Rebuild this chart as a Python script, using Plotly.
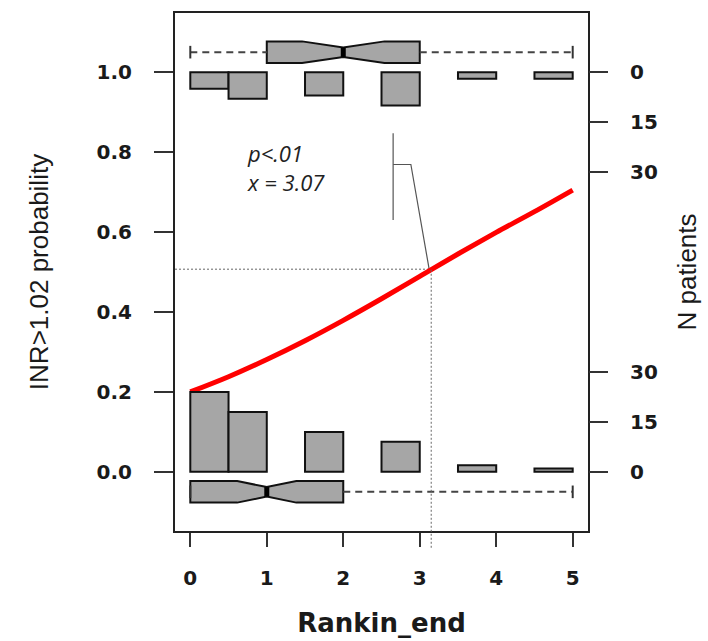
import numpy as np
import plotly.graph_objects as go

# ---------------- data ----------------
rankin_levels = [0, 1, 2, 3, 4, 5]
bin_left = [0.0, 0.5, 1.5, 2.5, 3.5, 4.5]
bin_width = 0.5
count_low = [24, 18, 12, 9, 2, 1]      # INR <= 1.02 (bottom histogram)
count_high = [5, 8, 7, 10, 2, 2]       # INR > 1.02 (top histogram)

curve_x = [0, 0.5, 1, 1.5, 2, 2.5, 3, 3.5, 4, 4.5, 5]
curve_p = [0.200, 0.238, 0.281, 0.328, 0.379, 0.433, 0.489, 0.545, 0.599, 0.651, 0.705]

x_ticks = [0, 1, 2, 3, 4, 5]
prob_ticks = [0.0, 0.2, 0.4, 0.6, 0.8, 1.0]
count_ticks = [0, 15, 30]

cut_x = 3.15
cut_p = 0.507
stat_label = "p<.01<br>x = 3.07"
label_x = 0.71
label_y = 0.762

bracket_x = [2.652, 2.652, None, 2.652, 2.884, 3.123]
bracket_y = [0.847, 0.630, None, 0.769, 0.769, 0.507]

box_pos_high = 1.05
box_pos_low = -0.05
box_height = 0.054
NOTCH_WIDTH = 0.28

X_RANGE = [-0.2, 5.2]
Y_RANGE = [-0.148, 1.148]
COUNTS_PER_UNIT = 120.0   # 30 patients span 0.25 on the probability axis
DOTTED_BOTTOM = -0.19

GRAY = "#a6a6a6"
EDGE = "#111111"
TXT = "#1a1a1a"


def box_stats(levels, counts):
    data = np.repeat(levels, counts)
    q1, med, q3 = np.percentile(data, [25, 50, 75])
    notch = 1.57 * (q3 - q1) / np.sqrt(len(data))
    return float(data.min()), float(q1), float(med), float(q3), float(data.max()), float(notch)


fig = go.Figure()

# histograms
fig.add_trace(go.Bar(x=bin_left, y=count_low, width=bin_width, offset=0, yaxis="y3",
                     marker=dict(color=GRAY, line=dict(color=EDGE, width=2)),
                     showlegend=False, hoverinfo="skip"))
fig.add_trace(go.Bar(x=bin_left, y=count_high, width=bin_width, offset=0, yaxis="y4",
                     marker=dict(color=GRAY, line=dict(color=EDGE, width=2)),
                     showlegend=False, hoverinfo="skip"))

# boxplots
for counts, pos in [(count_high, box_pos_high), (count_low, box_pos_low)]:
    mn, q1, med, q3, mx, notch = box_stats(rankin_levels, counts)
    wx, wy = [], []
    if mn < q1:
        wx += [mn, q1, None]
        wy += [pos, pos, None]
    if mx > q3:
        wx += [q3, mx]
        wy += [pos, pos]
    fig.add_trace(go.Scatter(x=wx, y=wy, mode="lines",
                             line=dict(color="#444444", width=2, dash="7px,5px"),
                             showlegend=False, hoverinfo="skip"))
    fig.add_trace(go.Scatter(x=[mn, mx], y=[pos, pos], mode="markers",
                             marker=dict(symbol="line-ns", size=9,
                                         line=dict(color="#333333", width=2)),
                             showlegend=False, hoverinfo="skip"))
    fig.add_trace(go.Box(orientation="h", y=[pos], q1=[q1], median=[med], q3=[q3],
                         lowerfence=[q1], upperfence=[q3], notched=True, notchspan=[notch],
                         notchwidth=NOTCH_WIDTH, width=box_height, whiskerwidth=0,
                         fillcolor=GRAY, line=dict(color=EDGE, width=2),
                         boxpoints=False, showlegend=False, hoverinfo="skip",
                         xaxis="x", yaxis="y"))
    half = box_height / 2 * (1 - 2 * NOTCH_WIDTH)
    fig.add_trace(go.Scatter(x=[med, med], y=[pos - half, pos + half], mode="lines",
                             line=dict(color="#000000", width=5),
                             showlegend=False, hoverinfo="skip"))

# dotted guides
fig.add_trace(go.Scatter(x=[X_RANGE[0], cut_x], y=[cut_p, cut_p], mode="lines",
                         line=dict(color="#666666", width=1, dash="2px,2px"),
                         showlegend=False, hoverinfo="skip"))


def ydom(v):
    return (v - Y_RANGE[0]) / (Y_RANGE[1] - Y_RANGE[0])


fig.add_shape(type="line", xref="x", yref="y domain", x0=cut_x, x1=cut_x,
              y0=ydom(DOTTED_BOTTOM), y1=ydom(cut_p),
              line=dict(color="#666666", width=1, dash="2px,2px"))

# bracket annotation lines
fig.add_trace(go.Scatter(x=bracket_x, y=bracket_y, mode="lines",
                         line=dict(color="#555555", width=1.2),
                         showlegend=False, hoverinfo="skip"))

# fitted curve
fig.add_trace(go.Scatter(x=curve_x, y=curve_p, mode="lines",
                         line=dict(color="#ff0000", width=5, shape="spline"),
                         showlegend=False, hoverinfo="skip"))

fig.add_annotation(x=label_x, y=label_y, xref="x", yref="y", text=stat_label,
                   showarrow=False, xanchor="left", yanchor="middle", align="left",
                   font=dict(family="Open Sans", size=22, color="#222222", style="italic"))

tickfont = dict(family="DejaVu Sans", size=20, color=TXT, weight="bold")

fig.update_layout(
    width=708, height=641,
    margin=dict(l=175, r=120, t=13, b=110, autoexpand=False),
    paper_bgcolor="white", plot_bgcolor="white",
    barmode="overlay",
    xaxis=dict(range=X_RANGE, tickvals=x_ticks, ticks="outside", ticklen=14, tickwidth=2,
               tickcolor="#333333", tickfont=tickfont, ticklabelstandoff=14,
               showgrid=False, zeroline=False, showline=True, mirror=True,
               linecolor="#222222", linewidth=2, automargin=False,
               title=dict(text="Rankin_end", standoff=25,
                          font=dict(family="DejaVu Sans", size=26, color=TXT, weight="bold"))),
    yaxis=dict(range=Y_RANGE, tickvals=prob_ticks, tickformat=".1f", ticks="outside",
               ticklen=19, tickwidth=2, tickcolor="#333333", tickfont=tickfont,
               ticklabelstandoff=18, showgrid=False, zeroline=False, showline=True,
               mirror=True, linecolor="#222222", linewidth=2, automargin=False,
               title=dict(text="INR>1.02 probability", standoff=40,
                          font=dict(family="Liberation Sans", size=26, color=TXT))),
    yaxis3=dict(overlaying="y", side="right", anchor="x",
                range=[Y_RANGE[0] * COUNTS_PER_UNIT, Y_RANGE[1] * COUNTS_PER_UNIT],
                tickvals=count_ticks, ticks="outside", ticklen=19, tickwidth=2,
                tickcolor="#333333", tickfont=tickfont, ticklabelstandoff=18,
                showgrid=False, zeroline=False, showline=False, automargin=False,
                title=dict(text="N patients", standoff=20,
                           font=dict(family="Liberation Sans", size=26, color=TXT))),
    yaxis4=dict(overlaying="y", side="right", anchor="x",
                range=[(1 - Y_RANGE[0]) * COUNTS_PER_UNIT, (1 - Y_RANGE[1]) * COUNTS_PER_UNIT],
                tickvals=count_ticks, ticks="outside", ticklen=19, tickwidth=2,
                tickcolor="#333333", tickfont=tickfont, ticklabelstandoff=18,
                showgrid=False, zeroline=False, showline=False, automargin=False),
)

fig.write_html("out.html")
